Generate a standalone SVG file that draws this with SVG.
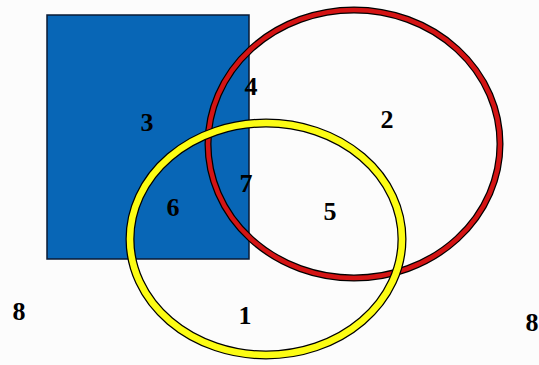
<svg xmlns="http://www.w3.org/2000/svg" width="539" height="365" viewBox="0 0 539 365">
<style>
.lbl{font-family:"Liberation Serif","Times New Roman",serif;font-weight:bold;font-size:26px;fill:#000;text-anchor:middle}
.edge{fill:none;stroke:#000}
</style>
<rect x="0" y="0" width="539" height="365" fill="#fcfcfc"/>
<g id="rect-set">
<rect x="47" y="15" width="202" height="244" fill="#0866b6" stroke="#0a1a33" stroke-width="1.5"/>
</g>
<g id="red-set">
<ellipse cx="354" cy="144" rx="146" ry="134" class="edge" stroke-width="7"/>
<ellipse cx="354" cy="144" rx="146" ry="134" fill="none" stroke="#d41414" stroke-width="4.5"/>
</g>
<g id="yellow-set">
<ellipse cx="266" cy="239" rx="136" ry="116" class="edge" stroke-width="9"/>
<ellipse cx="266" cy="239" rx="136" ry="116" fill="none" stroke="#fcfc14" stroke-width="6.5"/>
</g>
<g id="labels">
<text class="lbl" x="147" y="131">3</text>
<text class="lbl" x="251" y="95">4</text>
<text class="lbl" x="387" y="128">2</text>
<text class="lbl" x="246" y="192">7</text>
<text class="lbl" x="173" y="216">6</text>
<text class="lbl" x="330" y="220">5</text>
<text class="lbl" x="245" y="324">1</text>
<text class="lbl" x="19" y="320">8</text>
<text class="lbl" x="532" y="331">8</text>
</g>
</svg>
